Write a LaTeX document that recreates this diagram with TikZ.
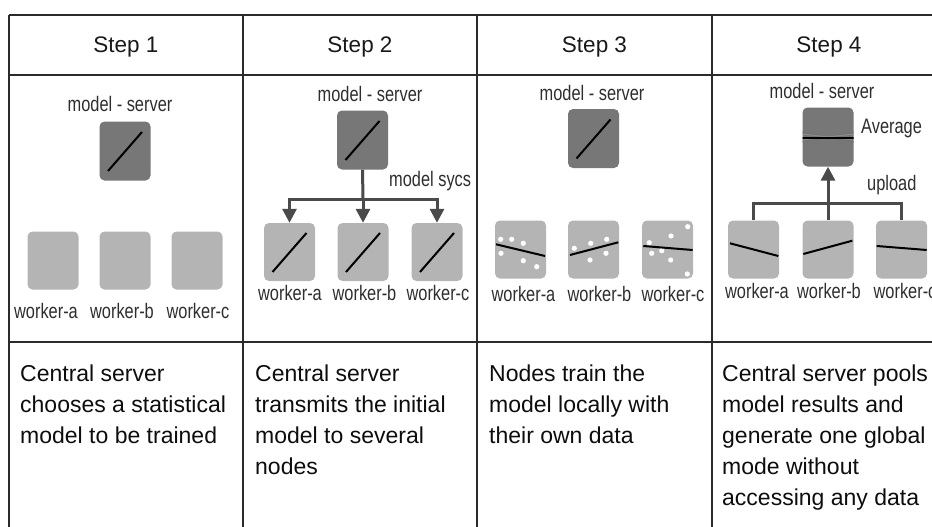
\documentclass[tikz,border=0pt]{standalone}
\usepackage{fontspec}
\setmainfont{Liberation Sans}
\newfontfamily\labelfont{Liberation Sans}[FakeStretch=0.78]
\usetikzlibrary{arrows.meta}

\definecolor{rulecolor}{HTML}{2B2B2B}
\definecolor{servergray}{HTML}{777777}
\definecolor{workergray}{HTML}{B4B4B4}
\definecolor{linkgray}{HTML}{4A4A4A}
\definecolor{labelgray}{HTML}{2E2E2E}

\tikzset{
  tableline/.style={draw=rulecolor, line width=1.6pt},
  server/.style={fill=servergray, rounded corners=5pt, minimum width=51pt, minimum height=59pt, inner sep=0pt},
  worker/.style={fill=workergray, rounded corners=5pt, minimum width=51pt, minimum height=58pt, inner sep=0pt},
  heading/.style={font=\fontsize{22.5}{26}\selectfont, anchor=base, text=black!90, inner sep=0pt},
  wlabel/.style={font=\labelfont\fontsize{21}{24}\selectfont, anchor=base, text=labelgray, inner sep=0pt},
  sidelabel/.style={wlabel, anchor=base west},
  desc/.style={font=\fontsize{23}{31}\selectfont, anchor=north west, align=left, inner sep=0pt, text=black!95},
  link/.style={draw=linkgray, line width=3pt},
  arrowed/.style={link, -{Triangle[width=14pt,length=14pt]}},
  modelline/.style={line width=2pt, black},
  sample/.style={fill=white, draw=none},
}

\begin{document}
\begin{tikzpicture}[x=1pt, y=-1pt]
\useasboundingbox (0,0) rectangle (932,527);
\clip (0,0) rectangle (932,527);

% table grid
\draw[tableline] (9,15) -- (960,15);
\draw[tableline] (9,75) -- (960,75);
\draw[tableline] (9,342) -- (960,342);
\foreach \x in {9,243,477,712}
  \draw[tableline] (\x,15) -- (\x,540);

% column headings
\node[heading] (h1) at (126,53) {Step 1};
\node[heading] (h2) at (360,53) {Step 2};
\node[heading] (h3) at (594.5,53) {Step 3};
\node[heading] (h4) at (829,53) {Step 4};

% ---------- step 1 ----------
\node[wlabel] (m1) at (120,111) {model - server};
\node[server] (s1) at (125,151) {};
\begin{scope}[shift={(s1.center)}]
  \draw[modelline] (-17,20) -- (17,-19);
\end{scope}
\node[worker] (w1a) at (53,260.5) {};
\node[worker] (w1b) at (125,260.5) {};
\node[worker] (w1c) at (197,260.5) {};
\node[wlabel] (l1a) at (46,318) {worker-a};
\node[wlabel] (l1b) at (122,318) {worker-b};
\node[wlabel] (l1c) at (198,318) {worker-c};

% ---------- step 2 ----------
\node[wlabel] (m2) at (370,101.5) {model - server};
\node[server] (s2) at (362.5,140) {};
\node[worker] (w2a) at (289.5,252) {};
\node[worker] (w2b) at (363,252) {};
\node[worker] (w2c) at (437,252) {};
\foreach \n in {s2,w2a,w2b,w2c}{
  \begin{scope}[shift={(\n.center)}]
    \draw[modelline] (-17,20) -- (17,-19);
  \end{scope}
}
\coordinate (j2) at (363,199);
\draw[link] (s2.south) -- (j2);
\draw[arrowed] (j2) -| (w2a.north);
\draw[arrowed] (j2) -- (w2b.north);
\draw[arrowed] (j2) -| (w2c.north);
\node[sidelabel] (sync) at (389,186) {model sycs};
\node[wlabel] (l2a) at (290,300) {worker-a};
\node[wlabel] (l2b) at (364.5,300) {worker-b};
\node[wlabel] (l2c) at (438,300) {worker-c};

% ---------- step 3 ----------
\node[wlabel] (m3) at (592,100.5) {model - server};
\node[server] (s3) at (593.5,138.5) {};
\begin{scope}[shift={(s3.center)}]
  \draw[modelline] (-17,20) -- (17,-19);
\end{scope}
\node[worker] (w3a) at (520.5,249.5) {};
\node[worker] (w3b) at (593.5,249.5) {};
\node[worker] (w3c) at (667.5,249.5) {};
\begin{scope}[shift={(w3a.center)}]
  \foreach \p in {(-19.8,-10.2),(-8.8,-10.2),(2.8,-6.2),(-19.5,3.8),(2.8,11.2),(16.2,17.2)}
    \fill[sample] \p circle (2.6);
  \draw[modelline] (-24.5,-5.2) -- (24.5,6.5);
\end{scope}
\begin{scope}[shift={(w3b.center)}]
  \foreach \p in {(-19.2,-1.2),(-2.8,-6.2),(13.2,-10.2),(-3.5,10.5),(12.5,3.8)}
    \fill[sample] \p circle (2.6);
  \draw[modelline] (-23.5,5.5) -- (24.8,-7.2);
\end{scope}
\begin{scope}[shift={(w3c.center)}]
  \foreach \p in {(20.2,-22.8),(3.5,-13.5),(-18.2,-6.8),(-15.8,3.8),(-5.8,1.2),(3.2,10.5),(19.8,24.5)}
    \fill[sample] \p circle (2.6);
  \draw[modelline] (-24.2,-3.5) -- (25.2,0.5);
\end{scope}
\node[wlabel] (l3a) at (523.5,301) {worker-a};
\node[wlabel] (l3b) at (599.5,301) {worker-b};
\node[wlabel] (l3c) at (673,301) {worker-c};

% ---------- step 4 ----------
\node[wlabel] (m4) at (822,99) {model - server};
\node[server] (s4) at (828,137) {};
\begin{scope}[shift={(s4.center)}]
  \clip[rounded corners=5pt] (-25.5,-29.5) rectangle (25.5,29.5);
  \draw[line width=1.2pt, black!55] (-26,-5) -- (26,5);
  \draw[line width=1.2pt, black!55] (-26,5) -- (26,-5);
  \draw[line width=1pt, black!45] (-26,-3) -- (26,3);
  \draw[line width=1pt, black!45] (-26,3) -- (26,-3);
  \draw[line width=2.4pt, black] (-26,1) -- (26,1);
\end{scope}
\node[sidelabel] (avg) at (861,133) {Average};
\node[worker] (w4a) at (753.5,249.5) {};
\node[worker] (w4b) at (828,249.5) {};
\node[worker] (w4c) at (901.5,249.5) {};
\begin{scope}[shift={(w4a.center)}]
  \draw[modelline] (-23.5,-6.2) -- (24.8,6.5);
\end{scope}
\begin{scope}[shift={(w4b.center)}]
  \draw[modelline] (-24.7,4.5) -- (24.3,-8.8);
\end{scope}
\begin{scope}[shift={(w4c.center)}]
  \draw[modelline] (-24.8,-3.5) -- (25.2,0.5);
\end{scope}
\coordinate (j4) at (828,203);
\draw[link] (w4a.north) |- (j4);
\draw[link] (w4c.north) |- (j4);
\draw[link] (w4b.north) -- (j4);
\draw[arrowed] (j4) -- (s4.south);
\node[sidelabel] (up) at (867,190) {upload};
\node[wlabel] (l4a) at (757,298) {worker-a};
\node[wlabel] (l4b) at (829,298) {worker-b};
\node[wlabel] (l4c) at (905,298) {worker-c};

% ---------- descriptions ----------
\node[desc] (d1) at (20,364.5) {Central server\\chooses a statistical\\model to be trained};
\node[desc] (d2) at (255,364.5) {Central server\\transmits the initial\\model to several\\nodes};
\node[desc] (d3) at (489,364.5) {Nodes train the\\model locally with\\their own data};
\node[desc] (d4) at (722,364.5) {Central server pools\\model results and\\generate one global\\mode without\\accessing any data};
\end{tikzpicture}
\end{document}
